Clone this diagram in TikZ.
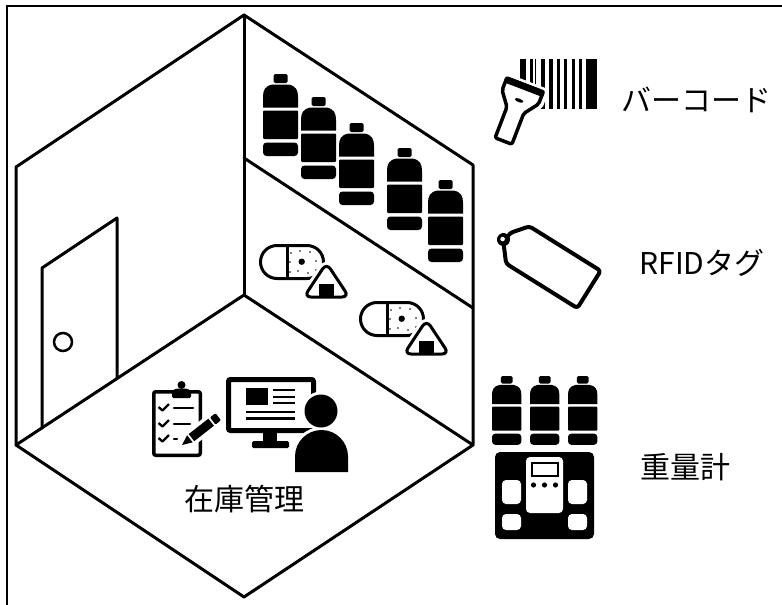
\documentclass[tikz,border=0pt]{standalone}
\usepackage{fontspec}
\newfontfamily\jpfont{Noto Sans CJK JP}
\begin{document}
\begin{tikzpicture}[x=1pt,y=-1pt,
  roomline/.style={line width=3pt,line join=round,line cap=round},
  thinline/.style={line width=2.5pt,line cap=round},
  label text/.style={font=\jpfont\fontsize{30}{36}\selectfont,inner sep=0pt},
  halo/.style={draw=white,line width=#1,line join=round},
  pics/pet bottle/.style={code={
    \fill[rounded corners=1.5] (10.5,0) rectangle (24.5,9);
    \fill (9.5,10.5) .. controls (2,12) and (0,16) .. (0,23) -- (0,33.5) -- (35,33.5) -- (35,23) .. controls (35,16) and (33,12) .. (25.5,10.5) -- cycle;
    \fill[rounded corners=1] (0,36.5) rectangle (35,65);
    \fill[rounded corners=3.5] (0,68.5) rectangle (35,82);
  }},
  pics/rice set/.style={code={
    \draw[line width=3pt,rounded corners=16.5] (1.5,1.5) rectangle (64.5,34.5);
    \draw[line width=3pt] (28,1.5) -- (28,34.5);
    \fill (42.7,17.7) circle (3.2);
    \foreach \p in {(32,9),(41,7),(51,8),(31,18),(57,17),(31,28),(39,27),(49,29),(57,26)}
      \fill \p circle (0.9);
    \draw[halo=9pt,rounded corners=7] (67.5,19) -- (45,53) -- (90,53) -- cycle;
    \draw[fill=white,line width=3pt,rounded corners=7] (67.5,19) -- (45,53) -- (90,53) -- cycle;
    \fill (59.5,39.5) rectangle (74.5,51.5);
  }}
]
\useasboundingbox (0,0) rectangle (782,605);

% outer frame
\draw[line width=2pt] (7,620) -- (7,6) -- (800,6);

% room corners
\coordinate (T) at (244,15);
\coordinate (UL) at (16,167);
\coordinate (LL) at (16,445);
\coordinate (B) at (244,597);
\coordinate (LR) at (473,445);
\coordinate (UR) at (473,165);
\coordinate (F) at (244,295);
\coordinate (C) at (244,158);
\coordinate (S) at (473,308);

\draw[roomline] (T) -- (UL) -- (LL) -- (B) -- (LR) -- (UR) -- cycle;
\draw[roomline] (T) -- (F);
\draw[roomline] (LL) -- (F) -- (LR);
\draw[roomline] (C) -- (S);

% door
\draw[roomline] (42,428) -- (42,268) -- (117,218) -- (117,378);
\draw[line width=2.5pt] (63,342) circle (9);

% bottles on the upper shelf
\pic at (263,74) {pet bottle};
\pic at (301,97) {pet bottle};
\pic at (339,123) {pet bottle};
\pic at (387,148) {pet bottle};
\pic at (428,180) {pet bottle};

% lunch boxes and rice balls on the lower shelf
\pic at (259,244) {rice set};
\pic at (359,301) {rice set};

% clipboard
\draw[line width=3.5pt,rounded corners=2] (153.75,391.75) rectangle (200.25,455.25);
\fill[rounded corners=1.5] (172,398) -- (172,391) -- (176,388.5) -- (187,388.5) -- (191,391) -- (191,398) -- cycle;
\fill (181.5,385) circle (4);
\foreach \yy in {408,424,439}
  \draw[line width=2.3pt,line join=round] (158.5,\yy-1) -- (162.5,\yy+2.5) -- (169,\yy-4);
\draw[thinline] (174,408) -- (193,408);
\draw[thinline] (174,424) -- (190,424);
\draw[thinline] (174,439) -- (177,439);
% pencil
\begin{scope}[shift={(182,445)},rotate=38]
  \fill[white,rounded corners=1] (-3,0) -- (11,-8) -- (49,-8) -- (49,8) -- (11,8) -- cycle;
  \fill (0,0) -- (10,-4.5) -- (10,4.5) -- cycle;
  \fill (12,-4.5) rectangle (37,4.5);
  \fill[rounded corners=1] (39,-4.5) rectangle (46,4.5);
\end{scope}

% monitor
\draw[line width=5pt,rounded corners=2] (228.5,379.5) rectangle (313.5,430.5);
\fill (246,388) rectangle (268,405);
\foreach \yy in {390,397,403}
  \draw[line width=2.5pt] (273,\yy) -- (295,\yy);
\draw[line width=2.5pt] (246,412) -- (295,412);
\draw[line width=2.5pt] (246,418.5) -- (295,418.5);
\fill (263,432) rectangle (277,442);
\fill[rounded corners=1.5] (252,441) rectangle (289,448);

% person
\path[halo=6pt] (321,411) circle (16.5);
\path[halo=6pt] (295,474) -- (295,456.5) .. controls (295,441.9) and (306.9,430) .. (321.5,430) .. controls (336.1,430) and (348,441.9) .. (348,456.5) -- (348,474) -- cycle;
\fill (321,411) circle (16.5);
\fill (295,472) -- (295,456.5) .. controls (295,441.9) and (306.9,430) .. (321.5,430) .. controls (336.1,430) and (348,441.9) .. (348,456.5) -- (348,472) -- cycle;

% barcode and scanner
\foreach \a/\b in {520/525.7,530/532.7,534.5/536.3,541/545,549/552.7,557.3/559.5,563.5/567.3,571.7/575,579/581.7,586/597}
  \fill (\a,59) rectangle (\b,109);
\begin{scope}[shift={(525,85)},rotate=-21]
  \draw[halo=9pt,fill=white] (-20,0) -- (20,0) -- (20,13) -- (9,27) -- (9,60) -- (-9,60) -- (-9,27) -- (-20,13) -- cycle;
  \draw[line width=3.5pt,line join=round,rounded corners=2,fill=white] (-19.5,0) -- (19.5,0) -- (19.5,13) -- (9,27) -- (9,60) -- (-9,60) -- (-9,27) -- (-19.5,13) -- cycle;
  \fill[rounded corners=2] (-21.2,-1.7) rectangle (21.2,5);
  \fill (0,16.5) ellipse (4.5 and 1.8);
\end{scope}

% tag
\begin{scope}[shift={(589,289.5)},rotate=-32]
  \draw[line width=4pt,line join=round,rounded corners=3,fill=white] (0,-22) -- (-84,-22) -- (-97,-6) -- (-97,6) -- (-84,22) -- (0,22) -- cycle;
  \fill (-99,3) circle (6.5);
  \fill[white] (-100,3) circle (2.3);
\end{scope}

% bottles on the scale
\pic[scale=0.84] at (492,376) {pet bottle};
\pic[scale=0.84] at (530,376) {pet bottle};
\pic[scale=0.84] at (568,376) {pet bottle};
% scale
\fill[rounded corners=5] (495,452) rectangle (594,539);
\fill[white,rounded corners=4] (526,457) rectangle (563,513);
\draw[line width=2pt] (532,463) rectangle (558,476);
\foreach \xx in {533.5,544.5,555.5}
  \fill (\xx,485) circle (2.6);
\fill[white,rounded corners=4] (502,480) rectangle (521,504);
\fill[white,rounded corners=4] (502,514) rectangle (521,530);
\fill[white,rounded corners=4] (568,480) rectangle (587,504);
\fill[white,rounded corners=4] (568,514) rectangle (587,530);

% labels
\node[label text] (stock) at (244,499) {在庫管理};
\node[label text] (barcode) at (696,100) {バーコード};
\node[label text] (rfid) at (702,263) {RFIDタグ};
\node[label text] (weigher) at (685,467) {重量計};
\end{tikzpicture}
\end{document}
